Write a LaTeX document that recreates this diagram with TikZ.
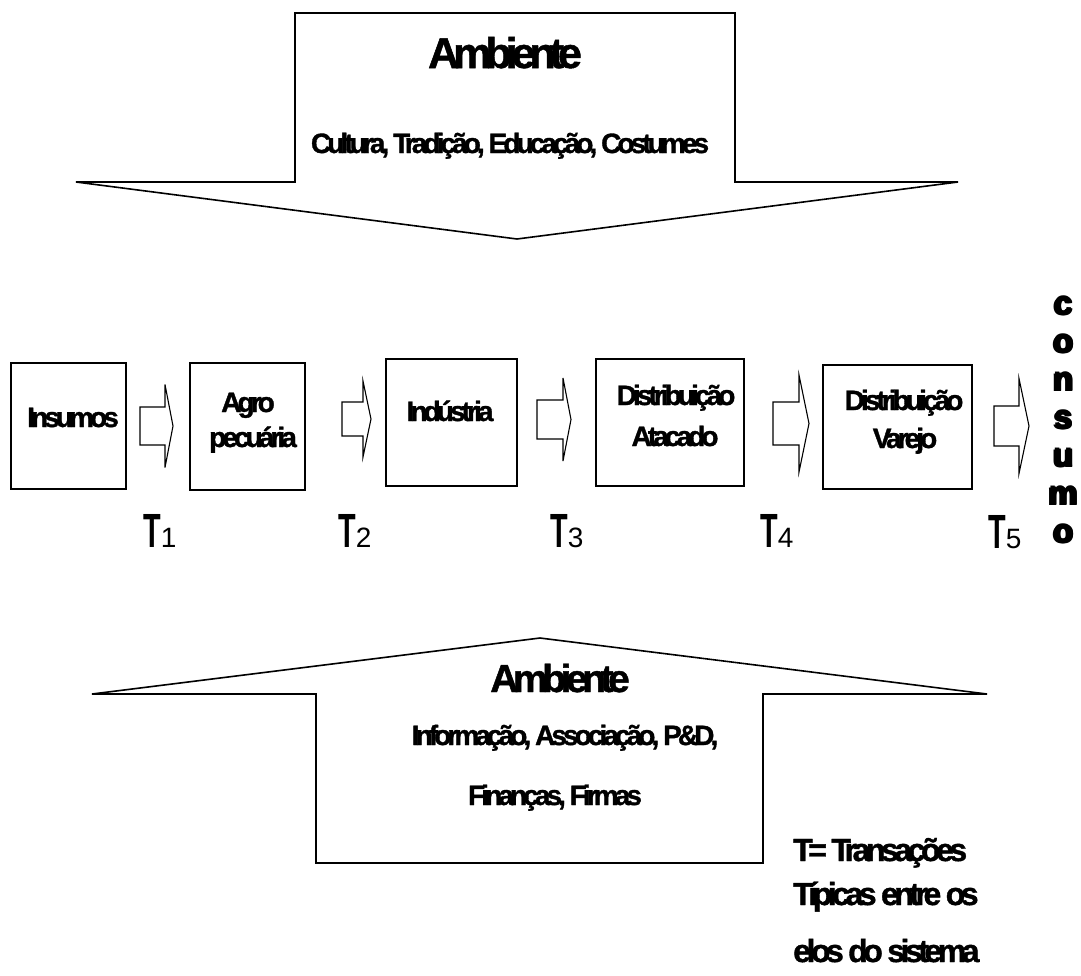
\documentclass[tikz,border=0pt]{standalone}
\usepackage{fontspec}
\setmainfont{Liberation Sans}
\newfontfamily\apertada[LetterSpace=-14,FakeBold=1.2]{Liberation Sans}
\newfontfamily\pesada{Liberation Sans Bold}
\usetikzlibrary{positioning}

\tikzset{
  caixa/.style={draw, line width=1.3pt, inner sep=0pt},
  rotulo/.style={font=\apertada\bfseries\fontsize{28}{32}\selectfont, inner sep=0pt, anchor=base},
  seta/.style={draw, line width=1.1pt, line join=miter},
  setagrande/.style={draw, line width=1.6pt, line join=miter},
  trans/.style={inner sep=0pt, anchor=base west},
  letra/.style={font=\pesada\fontsize{33}{38}\selectfont, inner sep=0pt, anchor=base},
  legenda/.style={rotulo, anchor=base west, font=\apertada\bfseries\fontsize{32}{34}\selectfont},
}
% T with its index
\newcommand{\transacao}[1]{{\fontsize{48}{48}\selectfont\bfseries\scalebox{0.6}[1]{T}}{\fontsize{28}{28}\selectfont #1}}
% heavy letter (printed a few times, slightly shifted)
\newcommand{\grosso}[1]{\rlap{#1}\rlap{\kern1.4pt#1}\rlap{\kern2.8pt\raisebox{0.8pt}{#1}}\rlap{\kern1.4pt\raisebox{1.6pt}{#1}}\kern2.8pt#1}
% block arrow: tail x, head x, tip x, mid y, half shaft, half head
\newcommand{\setabloco}[6]{%
  \draw[seta] (#1,#4-#5) -- (#2,#4-#5) -- (#2,#4-#6) -- (#3,#4) -- (#2,#4+#6) -- (#2,#4+#5) -- (#1,#4+#5) -- cycle;}

\begin{document}
\begin{tikzpicture}[x=1pt, y=-1pt]
\useasboundingbox (0,0) rectangle (1081,975);
% Environment above
\draw[setagrande] (295,13) -- (735,13) -- (735,182) -- (958,182) -- (517,239) -- (76,182) -- (295,182) -- cycle;
\node[rotulo, font=\apertada\bfseries\fontsize{43}{45}\selectfont] (amb1) at (505,68) {Ambiente};
\node[rotulo] (cult) at (510,153) {Cultura, Tradição, Educação, Costumes};

% The chain
\node[caixa, minimum width=115pt, minimum height=126pt] (ins) at (68.5,426) {};
\node[caixa, minimum width=115pt, minimum height=127pt] (agro) at (247.5,426.5) {};
\node[caixa, minimum width=131pt, minimum height=127pt] (ind) at (451.5,422.5) {};
\node[caixa, minimum width=148pt, minimum height=127pt] (atac) at (670,422.5) {};
\node[caixa, minimum width=149pt, minimum height=124pt] (varj) at (897.5,427) {};
\node[rotulo] (insT) at (73,427) {Insumos};
\node[rotulo] (agroT) at (248,412) {Agro};
\node[rotulo] (agroT2) at (253,447) {pecuária};
\node[rotulo] (indT) at (450,421) {Indústria};
\node[rotulo] (atacT) at (676,405) {Distribuição};
\node[rotulo] (atacT2) at (675,446) {Atacado};
\node[rotulo] (varjT) at (904,410) {Distribuição};
\node[rotulo] (varjT2) at (905,448) {Varejo};
\setabloco{140}{165}{173}{426}{19}{41.5}
\setabloco{342}{363}{371}{419}{17}{38}
\setabloco{537}{563}{571}{419.5}{19.5}{41.5}
\setabloco{773}{799}{809}{423.5}{21.5}{48.5}
\setabloco{994}{1019}{1029}{426}{20}{47.5}
% transactions
\node[trans] (t1) at (143,547) {\transacao{1}};
\node[trans] (t2) at (338,547) {\transacao{2}};
\node[trans] (t3) at (550,547) {\transacao{3}};
\node[trans] (t4) at (760,547) {\transacao{4}};
\node[trans] (t5) at (988,548) {\transacao{5}};
% Consumo, written downwards
\foreach \l [count=\i] in {c,o,n,s,u,m,o}
  \node[letra] (cons\i) at (1063,277+38*\i) {\grosso{\l}};

% Environment below
\draw[setagrande] (540,638) -- (987,694) -- (763,694) -- (763,863) -- (316,863) -- (316,694) -- (92,694) -- cycle;
\node[rotulo, font=\apertada\bfseries\fontsize{39}{41}\selectfont] (amb2) at (560,692) {Ambiente};
\node[rotulo] (info) at (565,745) {Informação, Associação, P\&D,};
\node[rotulo] (fin) at (555,805) {Finanças, Firmas};
% legend
\node[legenda] (leg1) at (793,861) {T= Transações};
\node[legenda] (leg2) at (793,905) {Típicas entre os};
\node[legenda] (leg3) at (793,962) {elos do sistema};
\end{tikzpicture}
\end{document}
